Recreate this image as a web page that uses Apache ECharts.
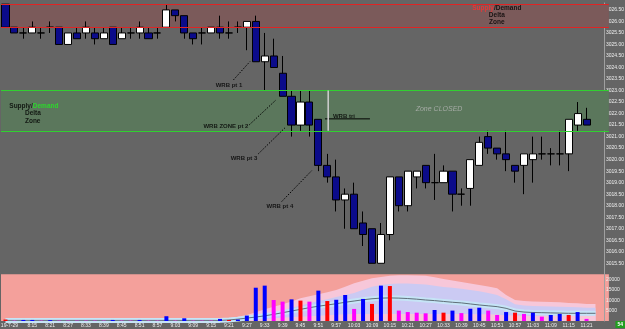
<!DOCTYPE html>
<html>
<head>
<meta charset="utf-8">
<script src="https://cdn.jsdelivr.net/npm/echarts@6/dist/echarts.min.js"></script>
<style>
  html, body { margin: 0; padding: 0; background: #656565; }
  #chart { width: 625px; height: 329px; }
</style>
</head>
<body>
<div id="chart"></div>
<script>
// 3 minute bars, 8:06 .. 11:21 (last two slots empty)
const times = [
  '8:06', '8:09', '8:12', '8:15', '8:18', '8:21', '8:24', '8:27', '8:30', '8:33',
  '8:36', '8:39', '8:42', '8:45', '8:48', '8:51', '8:54', '8:57', '9:00', '9:03',
  '9:06', '9:09', '9:12', '9:15', '9:18', '9:21', '9:24', '9:27', '9:30', '9:33',
  '9:36', '9:39', '9:42', '9:45', '9:48', '9:51', '9:54', '9:57', '10:00', '10:03',
  '10:06', '10:09', '10:12', '10:15', '10:18', '10:21', '10:24', '10:27', '10:30', '10:33',
  '10:36', '10:39', '10:42', '10:45', '10:48', '10:51', '10:54', '10:57', '11:00', '11:03',
  '11:06', '11:09', '11:12', '11:15', '11:18', '11:21', '11:24', '11:27'
];
const dateLabel = '19-7-29';

// [open, close, low, high]
const candles = [
  [3026.75, 3025.75, 3025.75, 3026.75], [3025.75, 3025.5, 3025.5, 3025.75],
  [3025.5, 3025.5, 3025.25, 3025.75], [3025.5, 3025.75, 3025.5, 3026.0],
  [3025.5, 3025.5, 3025.25, 3025.75], [3025.75, 3025.75, 3025.5, 3026.0],
  [3025.75, 3025.0, 3025.0, 3025.75], [3025.0, 3025.5, 3025.0, 3025.5],
  [3025.5, 3025.25, 3025.25, 3025.75], [3025.5, 3025.75, 3025.25, 3026.0],
  [3025.5, 3025.25, 3025.0, 3025.75], [3025.25, 3025.5, 3025.25, 3025.75],
  [3025.75, 3025.0, 3025.0, 3025.75], [3025.25, 3025.5, 3025.25, 3025.75],
  [3025.5, 3025.5, 3025.25, 3025.75], [3025.5, 3025.75, 3025.25, 3026.0],
  [3025.5, 3025.25, 3025.25, 3025.75], [3025.5, 3025.5, 3025.25, 3025.75],
  [3025.75, 3026.5, 3025.75, 3026.75], [3026.5, 3026.25, 3026.0, 3026.5],
  [3026.25, 3025.5, 3025.25, 3026.25], [3025.5, 3025.25, 3025.0, 3025.5],
  [3025.5, 3025.5, 3025.0, 3025.75], [3025.5, 3025.75, 3025.5, 3025.75],
  [3025.75, 3025.5, 3025.25, 3026.25], [3025.5, 3025.5, 3025.25, 3026.0],
  [3025.75, 3025.75, 3025.5, 3026.0], [3025.75, 3026.0, 3024.75, 3026.0],
  [3026.0, 3024.25, 3024.25, 3026.25], [3024.25, 3024.5, 3023.0, 3025.5],
  [3024.5, 3024.0, 3024.0, 3025.25], [3023.75, 3022.75, 3022.75, 3024.5],
  [3022.75, 3021.5, 3021.0, 3023.0], [3021.5, 3022.5, 3021.25, 3023.0],
  [3022.5, 3021.5, 3021.0, 3023.0], [3021.75, 3019.75, 3019.5, 3021.75],
  [3019.75, 3019.25, 3019.0, 3020.25], [3019.25, 3018.25, 3017.75, 3020.0],
  [3018.25, 3018.5, 3017.0, 3018.75], [3018.5, 3017.0, 3017.0, 3019.0],
  [3017.25, 3016.75, 3016.25, 3017.75], [3017.0, 3015.5, 3015.5, 3017.0],
  [3015.5, 3016.75, 3015.5, 3017.25], [3016.75, 3019.25, 3016.5, 3019.25],
  [3019.25, 3018.0, 3017.75, 3019.25], [3018.0, 3019.5, 3017.75, 3019.5],
  [3019.25, 3019.5, 3018.75, 3019.5], [3019.75, 3019.0, 3018.75, 3019.75],
  [3019.0, 3019.0, 3018.25, 3020.25], [3019.0, 3019.5, 3019.0, 3019.75],
  [3019.5, 3018.5, 3017.75, 3019.5], [3018.5, 3018.5, 3018.0, 3018.75],
  [3018.75, 3020.0, 3018.0, 3020.0], [3019.75, 3020.75, 3019.75, 3021.0],
  [3021.0, 3020.5, 3020.25, 3021.25], [3020.5, 3020.25, 3020.0, 3020.5],
  [3020.25, 3020.0, 3019.5, 3021.25], [3019.75, 3019.5, 3019.0, 3019.75],
  [3019.75, 3020.25, 3018.5, 3020.25], [3020.0, 3020.25, 3019.0, 3021.0],
  [3020.25, 3020.25, 3020.0, 3021.0], [3020.25, 3020.25, 3019.75, 3020.5],
  [3020.25, 3020.25, 3019.75, 3021.25], [3020.25, 3021.75, 3019.5, 3021.75],
  [3021.5, 3022.0, 3021.25, 3022.5], [3021.75, 3021.5, 3021.5, 3022.25]
];

const volumes = [
  700, 150, 500, 500, 150, 400, 150, 150, 150, 150,
  150, 150, 500, 150, 150, 500, 150, 150, 2300, 150,
  1300, 150, 150, 150, 1000, 500, 700, 2600, 16000, 17000,
  10100, 9300, 10400, 9800, 9300, 14600, 9600, 10200, 12500, 5800,
  10600, 8200, 17000, 16800, 5000, 4300, 4000, 3700, 5300, 4000,
  5000, 3800, 5900, 6400, 5000, 2900, 4300, 4000, 3400, 4000,
  2100, 2900, 3400, 2900, 4300, 1000
];
// b = blue, r = red, m = magenta
const volColors = [
  'r', 'm', 'b', 'b', 'm', 'b', 'm', 'm', 'm', 'm',
  'm', 'm', 'b', 'm', 'm', 'b', 'm', 'm', 'b', 'm',
  'b', 'm', 'm', 'm', 'b', 'r', 'b', 'b', 'b', 'b',
  'm', 'm', 'b', 'r', 'm', 'b', 'r', 'b', 'b', 'm',
  'b', 'r', 'b', 'r', 'm', 'm', 'm', 'm', 'b', 'r',
  'b', 'm', 'b', 'b', 'm', 'm', 'b', 'r', 'm', 'b',
  'm', 'b', 'b', 'r', 'b', 'm'
];

// volume envelope (upper outer, upper inner, average, lower)
const volBandHi = [
  700, 700, 700, 700, 700, 700, 700, 700, 700, 700,
  700, 700, 700, 700, 700, 700, 700, 700, 700, 700,
  700, 700, 800, 900, 1000, 1300, 2000, 2900, 4200, 5600,
  6800, 8000, 9400, 10900, 11900, 12800, 13800, 14900, 16500, 18100,
  19300, 20500, 21200, 21800, 22000, 22000, 21900, 21800, 21000, 20200,
  19500, 18800, 18000, 17300, 16600, 15700, 12500, 10100, 9600, 9400,
  9300, 9100, 9000, 8700, 8500, 8200, 8200
];
const volBandMid = [
  450, 450, 450, 450, 450, 450, 450, 450, 450, 450,
  450, 450, 450, 450, 450, 450, 450, 450, 450, 450,
  450, 450, 450, 450, 450, 600, 1000, 1600, 2200, 2900,
  4000, 5100, 6300, 7400, 8500, 9600, 10500, 11500, 12500, 13500,
  15000, 16500, 17300, 17800, 18000, 18000, 17800, 17500, 17000, 16400,
  16000, 15500, 14900, 14300, 13500, 12500, 10400, 8000, 7400, 7200,
  7100, 7000, 6900, 6700, 6600, 6400, 6400
];
const volAvg = [
  300, 300, 300, 300, 300, 300, 300, 300, 300, 300,
  300, 300, 300, 300, 300, 300, 300, 300, 300, 300,
  300, 300, 300, 300, 300, 500, 900, 1400, 1900, 2500,
  3200, 4000, 4800, 5600, 6400, 7100, 7700, 8300, 9000, 9600,
  10200, 10700, 11000, 11100, 11000, 10800, 10500, 10100, 9800, 9400,
  9000, 8700, 8200, 7700, 7300, 6900, 6100, 4800, 4300, 4100,
  4000, 3900, 3800, 3700, 3700, 3700, 3700
];
const volBandLo = [
  150, 150, 150, 150, 150, 150, 150, 150, 150, 150,
  150, 150, 150, 150, 150, 150, 150, 150, 150, 150,
  150, 150, 150, 150, 150, 150, 150, 400, 700, 1000,
  1300, 1600, 1900, 2100, 2300, 2500, 2800, 3000, 3200, 3400,
  3400, 3400, 3400, 3400, 3400, 3400, 3400, 3400, 3400, 3400,
  3400, 3400, 3400, 3300, 3200, 3000, 2800, 2600, 2500, 2500,
  2500, 2500, 2500, 2500, 2500, 2500, 2500
];

const supplyZone = [3025.75, 3026.75];
const demandZone = [3021.25, 3023.0];

// annotations: [text, barIndex, price]
const wrbNotes = [
  ['WRB pt 1', 25.0, 3023.24],
  ['WRB ZONE pt 2', 24.66, 3021.43],
  ['WRB pt 3', 26.68, 3020.06],
  ['WRB pt 4', 30.7, 3017.96],
  ['WRB tri', 37.86, 3021.9]
];
// [x0, p0, x1, p1]
const wrbLines = [
  [25.5, 3023.46, 27.35, 3024.26],
  [27.27, 3021.51, 30.26, 3022.59],
  [28.28, 3020.25, 31.26, 3021.38],
  [30.9, 3018.18, 34.25, 3019.52]
];
const triLine = [35.74, 3021.77, 40.77, 3021.77];
const closeMarker = [36.1, 3023.0, 36.1, 3021.25];
const zoneClosedNote = ['Zone CLOSED', 48.5, 3022.2];
const supplyNote = [54.96, 3026.57, 3026.27, 3025.95];
const demandNote = [0.43, 2.18, 3022.3, 3022.01, 3021.69];
const lastPrice = candles[candles.length - 1][1];

const colorMap = { b: '#0000ff', r: '#ff0000', m: '#ff00ff' };
const noteFont = { fontSize: 6, fontWeight: 'bold', color: '#000', fontFamily: 'Liberation Sans' };

const chart = echarts.init(document.getElementById('chart'), null, { renderer: 'canvas' });

const lineSeries = (pts, style) => ({
  type: 'line',
  xAxisIndex: 2,
  yAxisIndex: 0,
  data: [[pts[0], pts[1]], [pts[2], pts[3]]],
  symbol: 'none',
  silent: true,
  z: 5,
  lineStyle: style,
  animation: false
});

const textItem = (text, x, y, align, extra) => ({
  value: [x, y],
  label: Object.assign({
    show: true,
    position: 'inside',
    align: align || 'center',
    verticalAlign: 'middle',
    formatter: text
  }, noteFont, extra || {})
});

const noteData = wrbNotes.map(n => textItem(n[0], n[1], n[2]));
noteData.push(textItem(zoneClosedNote[0], zoneClosedNote[1], zoneClosedNote[2], 'center',
  { color: '#b8b8b8', fontStyle: 'italic', fontWeight: 'normal', fontSize: 7 }));
noteData.push(textItem('{r|Supply}{k|/Demand}', supplyNote[0], supplyNote[1], 'center', {
  rich: { r: { color: '#ff3030', fontSize: 6.5, fontWeight: 'bold' }, k: { color: '#000', fontSize: 6.5, fontWeight: 'bold' } }
}));
noteData.push(textItem('Delta', supplyNote[0], supplyNote[2], 'center', { fontSize: 6.5 }));
noteData.push(textItem('Zone', supplyNote[0], supplyNote[3], 'center', { fontSize: 6.5 }));
noteData.push(textItem('{k|Supply/}{g|Demand}', demandNote[0], demandNote[2], 'left', {
  rich: { k: { color: '#000', fontSize: 6.5, fontWeight: 'bold' }, g: { color: '#22ee22', fontSize: 6.5, fontWeight: 'bold' } }
}));
noteData.push(textItem('Delta', demandNote[1], demandNote[3], 'left', { fontSize: 6.5 }));
noteData.push(textItem('Zone', demandNote[1], demandNote[4], 'left', { fontSize: 6.5 }));

const axisText = { color: '#eeeeee', fontSize: 5, fontFamily: 'Liberation Sans' };

chart.setOption({
  animation: false,
  backgroundColor: '#656565',
  grid: [
    { left: 1, right: 16.1, top: 3, height: 271.8, show: true, backgroundColor: '#656565', borderWidth: 0, outerBoundsMode: 'none' },
    { left: 1, right: 16.1, top: 274.3, height: 46.7, show: true, backgroundColor: '#f4a09b', borderWidth: 0, outerBoundsMode: 'none' }
  ],
  xAxis: [
    { type: 'category', gridIndex: 0, data: times, boundaryGap: true, show: false },
    {
      type: 'category', gridIndex: 1, data: times, boundaryGap: true,
      axisLine: { show: false }, axisTick: { show: false },
      axisLabel: Object.assign({
        margin: 2,
        interval: (i) => i === 0 || (i >= 3 && i <= 65 && i % 2 === 1),
        formatter: (v, i) => (i === 0 ? '{d|' + dateLabel + '}' : v),
        rich: { d: { padding: [0, 0, 0, 8], fontSize: 5, color: '#eeeeee', fontFamily: 'Liberation Sans' } }
      }, axisText)
    },
    { type: 'value', gridIndex: 0, min: -0.5, max: times.length - 0.5, show: false }
  ],
  yAxis: [
    {
      type: 'value', gridIndex: 0, position: 'right', offset: -4.9,
      min: 3015, max: 3026.8, interval: 0.5,
      axisLine: { show: true, onZero: false, lineStyle: { color: '#a0a0a0', width: 1 } },
      axisTick: { show: false }, splitLine: { show: false },
      axisLabel: Object.assign({
        margin: 2, showMinLabel: false, showMaxLabel: false,
        formatter: v => v.toFixed(2)
      }, axisText)
    },
    {
      type: 'value', gridIndex: 1, position: 'right', offset: -4.9,
      min: 0, max: 22450, interval: 5000,
      axisLine: { show: true, onZero: false, lineStyle: { color: '#a0a0a0', width: 1 } },
      axisTick: { show: false }, splitLine: { show: false },
      axisLabel: Object.assign({
        margin: 2, showMinLabel: false, showMaxLabel: false,
        padding: [3, 0, 0, 0],
        formatter: v => String(v)
      }, axisText)
    }
  ],
  graphic: [{
    type: 'text', right: 0, bottom: 1, z: 100,
    style: { text: '54', fill: '#ffffff', backgroundColor: '#1f9e1f', padding: [1, 2], font: 'bold 5px Liberation Sans' }
  }],
  series: [
    {
      // zones
      type: 'line', xAxisIndex: 2, yAxisIndex: 0, data: [], z: 1, silent: true,
      markArea: {
        silent: true,
        data: [
          [{ yAxis: supplyZone[0], itemStyle: { color: '#7b5a5a' } }, { yAxis: supplyZone[1] }],
          [{ yAxis: demandZone[0], itemStyle: { color: '#5b775c' } }, { yAxis: demandZone[1] }]
        ]
      },
      markLine: {
        silent: true, symbol: 'none',
        label: { show: false },
        data: [
          { yAxis: supplyZone[0], lineStyle: { color: '#e02424', width: 1, type: 'solid' } },
          { yAxis: supplyZone[1], lineStyle: { color: '#e02424', width: 1, type: 'solid' } },
          { yAxis: demandZone[0], lineStyle: { color: '#30d030', width: 1, type: 'solid' } },
          { yAxis: demandZone[1], lineStyle: { color: '#30d030', width: 1, type: 'solid' } },
          {
            yAxis: lastPrice, lineStyle: { opacity: 0 },
            label: {
              show: true, position: 'end', distance: -3, formatter: lastPrice.toFixed(2),
              backgroundColor: '#ffffff', color: '#000', fontSize: 5, padding: [1, 1],
              fontFamily: 'Liberation Sans'
            }
          }
        ]
      }
    },
    {
      type: 'candlestick', xAxisIndex: 0, yAxisIndex: 0, z: 3,
      data: candles, barWidth: 7.6,
      itemStyle: {
        color: '#ffffff', color0: '#0b0b8a',
        borderColor: '#000000', borderColor0: '#000000', borderWidth: 1
      }
    },
    lineSeries(wrbLines[0], { color: '#000', width: 1, type: [1.5, 1.5] }),
    lineSeries(wrbLines[1], { color: '#000', width: 1, type: [1.5, 1.5] }),
    lineSeries(wrbLines[2], { color: '#000', width: 1, type: [1.5, 1.5] }),
    lineSeries(wrbLines[3], { color: '#000', width: 1, type: [1.5, 1.5] }),
    lineSeries(triLine, { color: '#000', width: 1 }),
    lineSeries(closeMarker, { color: '#d0d0d0', width: 1.5 }),
    {
      type: 'scatter', xAxisIndex: 2, yAxisIndex: 0, symbolSize: 0, z: 6, silent: true,
      data: noteData
    },
    // volume envelope
    {
      type: 'line', xAxisIndex: 1, yAxisIndex: 1, data: volBandHi, symbol: 'none', z: 1,
      lineStyle: { width: 0 }, areaStyle: { color: '#f7c7d9', opacity: 1 }, silent: true
    },
    {
      type: 'line', xAxisIndex: 1, yAxisIndex: 1, data: volBandMid, symbol: 'none', z: 1,
      lineStyle: { width: 0 }, areaStyle: { color: '#cbcaf3', opacity: 1 }, silent: true
    },
    {
      type: 'line', xAxisIndex: 1, yAxisIndex: 1, data: volAvg, symbol: 'none', z: 1,
      lineStyle: { width: 5, color: '#c6e4f6' }, silent: true
    },
    {
      type: 'line', xAxisIndex: 1, yAxisIndex: 1, data: volBandLo, symbol: 'none', z: 1,
      lineStyle: { width: 0 }, areaStyle: { color: '#f7c7d9', opacity: 1 }, silent: true
    },
    {
      type: 'line', xAxisIndex: 1, yAxisIndex: 1, data: volAvg, symbol: 'none', z: 2,
      lineStyle: { width: 1, color: '#5f6f78' }, silent: true
    },
    {
      type: 'bar', xAxisIndex: 1, yAxisIndex: 1, z: 3, barWidth: 4,
      data: volumes.map((v, i) => ({ value: v, itemStyle: { color: colorMap[volColors[i]] } }))
    }
  ]
});
</script>
</body>
</html>
